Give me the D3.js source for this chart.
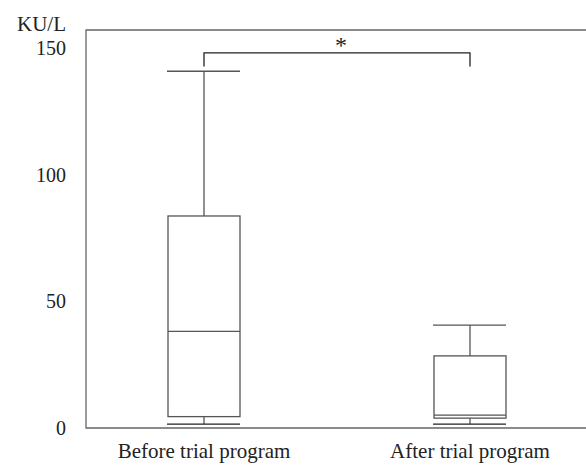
<!DOCTYPE html>
<meta charset="utf-8">
<style>
    body { margin: 0; background: #fff; }
</style>
<svg width="586" height="465" font-family="'Liberation Serif', 'Times New Roman', serif"></svg>

<script src="https://d3js.org/d3.v7.min.js"></script>
<script>
    // data
    var groups = ["Before trial program", "After trial program"];
    var whiskerLow = [1.5, 1.5];
    var q1 = [4.5, 3.9];
    var median = [38.2, 5.1];
    var q3 = [83.8, 28.5];
    var whiskerHigh = [141, 40.7];
    var yTicks = [0, 50, 100, 150];
    var unitLabel = "KU/L";
    var sigMark = "*";
    var bracketLevel = 148.3;
    var bracketDrop = 5.4;

    (function () {
        var svg = d3.select("svg"),
            left = 86,
            top = 30,
            bottom = 428,
            frameRight = 640,
            boxWidth = 72,
            fontSize = "20px";

        var y = d3.scaleLinear().domain([0, 150]).range([bottom, 48.5]);
        var x = d3.scalePoint().domain(groups).range([204, 470]);

        var stroke = "#555";

        // frame (runs off the right edge)
        svg.append("path")
            .attr("d", "M" + frameRight + "," + top + "H" + left + "V" + bottom + "H" + frameRight)
            .attr("fill", "none")
            .attr("stroke", "#666")
            .attr("stroke-width", 1.3);

        // y axis labels, no ticks
        var yAxis = d3.axisLeft(y).tickValues(yTicks).tickSize(0).tickPadding(20);
        var ga = svg.append("g").attr("transform", "translate(" + left + ",0)").call(yAxis);
        ga.attr("font-family", null).attr("font-size", null);
        ga.select(".domain").remove();
        ga.selectAll("text").style("font-size", fontSize).attr("fill", "#222");

        svg.append("text")
            .attr("x", 66).attr("y", 31)
            .attr("text-anchor", "end")
            .attr("fill", "#222")
            .style("font-size", "21px")
            .text(unitLabel);

        // x labels
        svg.selectAll(".xl")
            .data(groups)
            .enter().append("text")
            .attr("class", "xl")
            .attr("x", function (d) { return x(d); })
            .attr("y", 458)
            .attr("text-anchor", "middle")
            .attr("fill", "#222")
            .style("font-size", "21px")
            .text(function (d) { return d; });

        var box = svg.selectAll(".box")
            .data(groups)
            .enter().append("g")
            .attr("class", "box")
            .attr("fill", "none")
            .attr("stroke", stroke)
            .attr("stroke-width", 1.3);

        box.each(function (d, i) {
            var g = d3.select(this),
                cx = x(d),
                x0 = cx - boxWidth / 2,
                x1 = cx + boxWidth / 2;
            g.append("line").attr("x1", cx).attr("x2", cx).attr("y1", y(whiskerHigh[i])).attr("y2", y(q3[i]));
            g.append("line").attr("x1", cx).attr("x2", cx).attr("y1", y(q1[i])).attr("y2", y(whiskerLow[i]));
            g.append("line").attr("x1", x0 - 1).attr("x2", x1).attr("y1", y(whiskerHigh[i])).attr("y2", y(whiskerHigh[i]));
            g.append("line").attr("x1", x0 - 1).attr("x2", x1).attr("y1", y(whiskerLow[i])).attr("y2", y(whiskerLow[i]))
                .attr("stroke", "#222");
            g.append("rect")
                .attr("x", x0).attr("width", x1 - x0)
                .attr("y", y(q3[i])).attr("height", y(q1[i]) - y(q3[i]));
            g.append("line").attr("x1", x0).attr("x2", x1).attr("y1", y(median[i])).attr("y2", y(median[i]));
        });

        // significance bracket
        var bx0 = x(groups[0]),
            bx1 = x(groups[1]);
        svg.append("path")
            .attr("d", "M" + bx0 + "," + y(bracketLevel - bracketDrop) + "V" + y(bracketLevel) +
                "H" + bx1 + "V" + y(bracketLevel - bracketDrop))
            .attr("fill", "none")
            .attr("stroke", "#222")
            .attr("stroke-width", 1.3);

        svg.append("text")
            .attr("x", (bx0 + bx1) / 2 + 4)
            .attr("y", y(bracketLevel) - 0)
            .attr("text-anchor", "middle")
            .attr("fill", "#222")
            .style("font-size", "24px")
            .text(sigMark);
    })();
</script>
